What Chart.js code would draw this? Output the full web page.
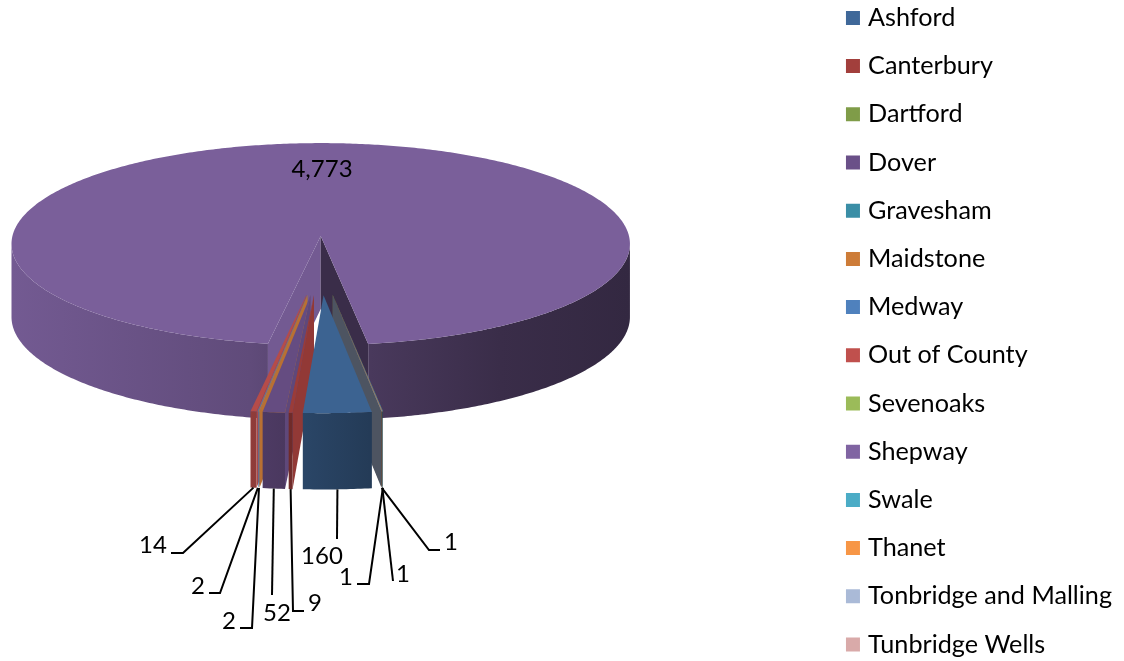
<!DOCTYPE html>
<html>
<head>
<meta charset="utf-8">
<title>Chart</title>
<script src="https://cdn.jsdelivr.net/npm/chart.js@4"></script>
<style>
  html, body { margin: 0; padding: 0; background: #fff; overflow: hidden; }
  #wrap { width: 1124px; height: 661px; }
</style>
</head>
<body>
<div id="wrap"><canvas id="pieChart" width="1124" height="661"></canvas></div>
<script>
// DATA

const categories = ["Ashford", "Canterbury", "Dartford", "Dover", "Gravesham", "Maidstone", "Medway",
  "Out of County", "Sevenoaks", "Shepway", "Swale", "Thanet", "Tonbridge and Malling", "Tunbridge Wells"];

const patients = [160, 9, 0, 52, 0, 2, 2, 14, 0, 4773, 1, 1, 1, 0];

const sliceColors = ["#3f6899", "#a23f3c", "#7f9c48", "#6a5088", "#3a8ea6", "#cd7c38", "#4f81bd",
  "#c0504d", "#9bbb59", "#8064a2", "#4bacc6", "#f79646", "#aabad7", "#d9aaa9"];


// VIEW OF THE TILTED PIE

const view = { cx: 320, cy: 265, rx: 315, ry: 105.5, depth: 73.5, perspective: 0.076, depthPerspective: 0.03, explode: 0.28 };

const firstSliceAngle = 172;

// shading of the round side wall, from left to right of the pie
const wallShade = [[12, 0.9], [250, 0.75], [370, 0.57], [500, 0.45], [629, 0.4]];

// LABEL PLACES: [text x, text y, elbow x, elbow y, end x, end y]

const labelSpots = {
  "Ashford": [322, 556, 337, 539, 337, 539],
  "Canterbury": [315, 603, 293, 611, 304, 611],
  "Dover": [277, 613, 272, 595, 272, 595],
  "Maidstone": [229, 621, 252, 628, 240, 628],
  "Medway": [198, 586, 220, 593, 209, 593],
  "Out of County": [153, 545, 183, 553, 171, 553],
  "Shepway": [322, 169],
  "Swale": [346, 577, 369, 584, 357, 584],
  "Thanet": [403, 574, 393, 581, 393, 581],
  "Tonbridge and Malling": [451, 542, 429, 550, 440, 550]
};


function project(X, Y, z) {
  const s = 1 + view.perspective * Y;
  return {
    x: view.cx + view.rx * X * s,
    y: view.cy + view.ry * Y * s + z * view.depth * (1 + view.depthPerspective * Y)
  };
}

// point of a slice, moved out along the middle of the slice
function slicePoint(arc, angle, r, z) {
  const mid = (arc.startAngle + arc.endAngle) / 2;
  return project(
    view.explode * Math.cos(mid) + r * Math.cos(angle),
    view.explode * Math.sin(mid) + r * Math.sin(angle),
    z
  );
}

function shade(hex, f) {
  const n = parseInt(hex.slice(1), 16);
  const r = Math.round(((n >> 16) & 255) * f);
  const g = Math.round(((n >> 8) & 255) * f);
  const b = Math.round((n & 255) * f);
  return `rgb(${r},${g},${b})`;
}

function fillPoly(ctx, points, style) {
  ctx.beginPath();
  points.forEach((p, i) => (i ? ctx.lineTo(p.x, p.y) : ctx.moveTo(p.x, p.y)));
  ctx.closePath();
  ctx.fillStyle = style;
  ctx.fill();
}

function arcPoints(arc, z) {
  const pts = [];
  const steps = Math.max(2, Math.ceil((arc.endAngle - arc.startAngle) * 90));
  for (let i = 0; i <= steps; i++) {
    const a = arc.startAngle + (arc.endAngle - arc.startAngle) * i / steps;
    pts.push(slicePoint(arc, a, 1, z));
  }
  return pts;
}

// a cut face shows only when the slice lies above it on screen
function cutFaceShows(tip, edge, inner) {
  const ex = edge.x - tip.x;
  const ey = edge.y - tip.y;
  const toSlice = ex * (inner.y - tip.y) - ey * (inner.x - tip.x);
  return toSlice * ex < 0;
}

function drawSlice(ctx, arc, color) {
  const tipTop = slicePoint(arc, 0, 0, 0);
  const tipBottom = slicePoint(arc, 0, 0, 1);
  const top = arcPoints(arc, 0);
  const bottom = arcPoints(arc, 1);
  const last = top.length - 1;
  const inner = top[Math.floor(last / 2)];

  // cut faces
  if (cutFaceShows(tipTop, top[0], inner)) {
    fillPoly(ctx, [tipTop, top[0], bottom[0], tipBottom], shade(color, 0.9));
  }
  if (cutFaceShows(tipTop, top[last], inner)) {
    fillPoly(ctx, [tipTop, top[last], bottom[last], tipBottom], shade(color, 0.45));
  }

  // round side, front part only, skipped on hair thin slices
  if (arc.endAngle - arc.startAngle > 0.01) {
    const grad = ctx.createLinearGradient(12, 0, 629, 0);
    wallShade.forEach(([x, f]) => grad.addColorStop((x - 12) / 617, shade(color, f)));
    ctx.beginPath();
    for (let i = 0; i < last; i++) {
      if (top[i + 1].x >= top[i].x) continue;
      ctx.moveTo(top[i].x, top[i].y);
      ctx.lineTo(top[i + 1].x, top[i + 1].y);
      ctx.lineTo(bottom[i + 1].x, bottom[i + 1].y);
      ctx.lineTo(bottom[i].x, bottom[i].y);
      ctx.closePath();
    }
    ctx.fillStyle = grad;
    ctx.fill();
  }

  // top face
  fillPoly(ctx, [tipTop].concat(top), shade(color, 0.95));
}


// PIE WITH DEPTH

class Pie3dController extends Chart.PieController {
  draw() {
    const ctx = this.chart.ctx;
    const order = this._cachedMeta.data
      .map((arc, i) => ({ arc, i }))
      .filter((d) => patients[d.i] > 0)
      .sort((a, b) => frontGap(b.arc) - frontGap(a.arc));
    ctx.save();
    order.forEach((d) => drawSlice(ctx, d.arc, sliceColors[d.i]));
    ctx.restore();
  }
}
Pie3dController.id = "pie3d";
Pie3dController.defaults = Chart.PieController.defaults;
Pie3dController.overrides = Chart.PieController.overrides;

function frontGap(arc) {
  const mid = (arc.startAngle + arc.endAngle) / 2;
  return Math.abs(Math.atan2(Math.sin(mid - Math.PI / 2), Math.cos(mid - Math.PI / 2)));
}

Chart.register(Pie3dController);


// VALUE LABELS AND LEADER LINES

const sliceLabels = {
  id: "sliceLabels",
  afterDatasetsDraw(chart) {
    const ctx = chart.ctx;
    const arcs = chart.getDatasetMeta(0).data;
    ctx.save();
    ctx.font = "24px Lato";
    ctx.textAlign = "center";
    ctx.textBaseline = "middle";
    categories.forEach((name, i) => {
      const spot = labelSpots[name];
      if (!spot) return;
      if (spot.length > 2) {
        const mid = (arcs[i].startAngle + arcs[i].endAngle) / 2;
        const from = slicePoint(arcs[i], mid, 1, 1);
        ctx.beginPath();
        ctx.moveTo(from.x, from.y);
        ctx.lineTo(spot[2], spot[3]);
        ctx.lineTo(spot[4], spot[5]);
        ctx.strokeStyle = "#000";
        ctx.lineWidth = 2;
        ctx.stroke();
      }
      ctx.fillStyle = "#000";
      ctx.fillText(patients[i].toLocaleString("en-GB"), spot[0], spot[1]);
    });
    ctx.restore();
  }
};


// CREATE CHART

new Chart(document.getElementById("pieChart"), {
  type: "pie3d",
  data: {
    labels: categories,
    datasets: [{
      data: patients,
      backgroundColor: sliceColors,
      borderWidth: 0
    }]
  },
  options: {
    responsive: false,
    animation: false,
    rotation: firstSliceAngle,
    layout: { padding: { top: -17.7, bottom: -60, right: 2, left: 0 } },
    plugins: {
      tooltip: { enabled: false },
      legend: {
        position: "right",
        align: "start",
        labels: {
          usePointStyle: true,
          pointStyle: "rect",
          boxWidth: 5,
          boxHeight: 14,
          padding: 23,
          color: "#000",
          font: { family: "Lato", size: 25.2, lineHeight: 1 }
        }
      }
    }
  },
  plugins: [sliceLabels]
});
</script>
</body>
</html>
